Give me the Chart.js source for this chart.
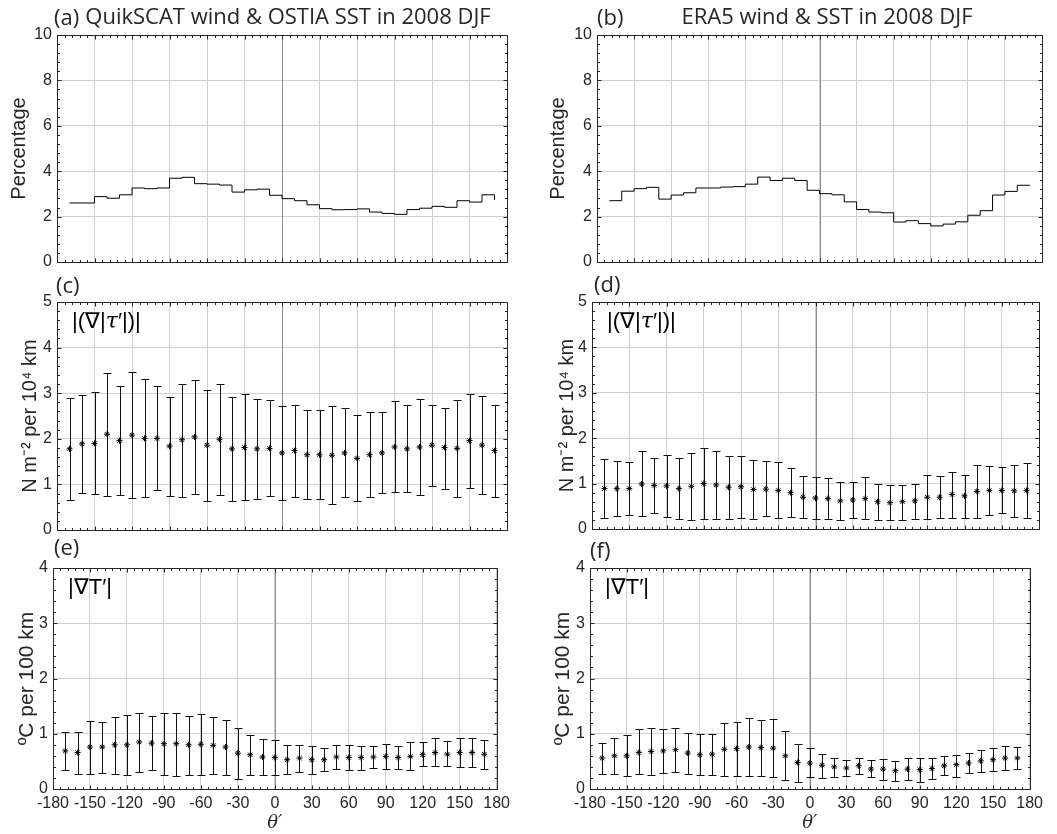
<!DOCTYPE html>
<html>
<head>
<meta charset="utf-8">
<script src="https://cdn.jsdelivr.net/npm/chart.js@4.4.0/dist/chart.umd.min.js"></script>
<style>
body { margin: 0; background: #fff; }
#wrap { position: relative; width: 1057px; height: 834px; overflow: hidden; background: #fff; }
canvas { position: absolute; }
</style>
</head>
<body>
<div id="wrap">
<canvas id="pa"></canvas><canvas id="pb"></canvas>
<canvas id="pc"></canvas><canvas id="pd"></canvas>
<canvas id="pe"></canvas><canvas id="pf"></canvas>
</div>
<script>
// bin centres (theta', degrees)
var theta = [-170, -160, -150, -140, -130, -120, -110, -100, -90, -80, -70, -60, -50, -40, -30, -20, -10,
    0, 10, 20, 30, 40, 50, 60, 70, 80, 90, 100, 110, 120, 130, 140, 150, 160, 170];
var xTicks = [-180, -150, -120, -90, -60, -30, 0, 30, 60, 90, 120, 150, 180];

// (a) / (b) percentage of samples per bin
var pctQuik = [2.60, 2.60, 2.88, 2.81, 2.96, 3.26, 3.23, 3.26, 3.69, 3.73, 3.45, 3.43, 3.39, 3.08, 3.18, 3.21, 2.94,
    2.79, 2.70, 2.52, 2.35, 2.30, 2.31, 2.34, 2.20, 2.14, 2.10, 2.31, 2.37, 2.45, 2.41, 2.70, 2.64, 2.96, 2.74];
var pctEra5 = [2.70, 3.12, 3.23, 3.29, 2.77, 2.95, 3.05, 3.26, 3.26, 3.30, 3.32, 3.43, 3.74, 3.59, 3.69, 3.59, 3.16,
    3.01, 2.96, 2.65, 2.31, 2.20, 2.17, 1.76, 1.82, 1.69, 1.59, 1.67, 1.77, 2.06, 2.26, 2.95, 3.11, 3.38, 3.35];

// (c) / (d) |grad|tau'|| : mean, upper and lower end of bar
var tauQuik = [1.78, 1.89, 1.90, 2.10, 1.96, 2.08, 2.01, 2.01, 1.84, 1.98, 2.04, 1.86, 1.99, 1.78, 1.81, 1.78, 1.79,
    1.69, 1.74, 1.65, 1.65, 1.64, 1.69, 1.57, 1.65, 1.69, 1.82, 1.78, 1.82, 1.86, 1.81, 1.79, 1.96, 1.86, 1.74];
var tauQuikHi = [2.90, 2.97, 3.02, 3.45, 3.16, 3.47, 3.32, 3.16, 2.92, 3.21, 3.28, 3.07, 3.21, 2.92, 2.98, 2.87, 2.85,
    2.73, 2.75, 2.63, 2.63, 2.72, 2.68, 2.53, 2.58, 2.58, 2.83, 2.74, 2.87, 2.75, 2.68, 2.84, 2.98, 2.94, 2.75];
var tauQuikLo = [0.66, 0.81, 0.79, 0.75, 0.76, 0.70, 0.72, 0.87, 0.75, 0.73, 0.80, 0.64, 0.76, 0.63, 0.66, 0.67, 0.74,
    0.66, 0.73, 0.69, 0.68, 0.57, 0.72, 0.63, 0.73, 0.82, 0.84, 0.84, 0.76, 0.97, 0.91, 0.73, 0.93, 0.78, 0.73];

var tauEra5 = [0.89, 0.89, 0.89, 0.99, 0.96, 0.95, 0.89, 0.94, 1.00, 0.97, 0.92, 0.93, 0.87, 0.88, 0.85, 0.80, 0.70,
    0.68, 0.67, 0.62, 0.64, 0.67, 0.60, 0.58, 0.60, 0.62, 0.70, 0.70, 0.76, 0.73, 0.83, 0.85, 0.85, 0.84, 0.85];
var tauEra5Hi = [1.55, 1.50, 1.48, 1.71, 1.57, 1.63, 1.57, 1.68, 1.78, 1.71, 1.60, 1.60, 1.52, 1.49, 1.48, 1.34, 1.16,
    1.14, 1.12, 1.04, 1.04, 1.14, 0.99, 0.97, 0.97, 0.99, 1.18, 1.16, 1.26, 1.20, 1.41, 1.39, 1.37, 1.41, 1.46];
var tauEra5Lo = [0.25, 0.29, 0.31, 0.28, 0.36, 0.27, 0.22, 0.20, 0.23, 0.21, 0.23, 0.25, 0.22, 0.28, 0.24, 0.27, 0.25,
    0.23, 0.23, 0.20, 0.24, 0.22, 0.20, 0.19, 0.20, 0.21, 0.21, 0.24, 0.24, 0.24, 0.24, 0.31, 0.36, 0.27, 0.25];

// (e) / (f) |grad T'|
var sstQuik = [0.69, 0.66, 0.76, 0.76, 0.80, 0.80, 0.85, 0.83, 0.82, 0.82, 0.80, 0.81, 0.79, 0.76, 0.65, 0.62, 0.58,
    0.57, 0.53, 0.56, 0.53, 0.53, 0.58, 0.57, 0.57, 0.58, 0.59, 0.57, 0.59, 0.62, 0.66, 0.63, 0.66, 0.66, 0.63];
var sstQuikHi = [1.03, 1.04, 1.23, 1.21, 1.31, 1.34, 1.38, 1.33, 1.37, 1.37, 1.33, 1.36, 1.31, 1.24, 1.11, 0.97, 0.90,
    0.88, 0.79, 0.80, 0.77, 0.74, 0.79, 0.79, 0.77, 0.77, 0.81, 0.77, 0.85, 0.85, 0.92, 0.86, 0.92, 0.92, 0.89];
var sstQuikLo = [0.34, 0.27, 0.28, 0.29, 0.27, 0.25, 0.31, 0.34, 0.26, 0.24, 0.25, 0.25, 0.27, 0.26, 0.18, 0.25, 0.26,
    0.26, 0.27, 0.31, 0.28, 0.33, 0.37, 0.34, 0.34, 0.38, 0.36, 0.36, 0.34, 0.41, 0.41, 0.42, 0.40, 0.40, 0.36];

var sstEra5 = [0.56, 0.60, 0.60, 0.66, 0.68, 0.69, 0.71, 0.65, 0.62, 0.63, 0.72, 0.73, 0.76, 0.75, 0.74, 0.60, 0.48,
    0.47, 0.43, 0.40, 0.38, 0.42, 0.36, 0.36, 0.33, 0.36, 0.35, 0.37, 0.42, 0.44, 0.47, 0.51, 0.53, 0.56, 0.56];
var sstEra5Hi = [0.83, 0.93, 0.97, 1.08, 1.10, 1.09, 1.11, 1.01, 0.99, 1.00, 1.20, 1.22, 1.29, 1.25, 1.27, 1.05, 0.82,
    0.74, 0.64, 0.57, 0.53, 0.57, 0.52, 0.55, 0.51, 0.56, 0.56, 0.56, 0.59, 0.61, 0.65, 0.70, 0.74, 0.77, 0.76];
var sstEra5Lo = [0.27, 0.27, 0.23, 0.27, 0.25, 0.29, 0.31, 0.28, 0.25, 0.25, 0.24, 0.24, 0.23, 0.23, 0.21, 0.16, 0.13,
    0.21, 0.20, 0.22, 0.23, 0.27, 0.22, 0.16, 0.15, 0.16, 0.13, 0.19, 0.25, 0.22, 0.29, 0.31, 0.33, 0.34, 0.36];

var AXIS = '#262626';
var GRID = '#d0d0d0';
var SANS = '"Liberation Sans", Arial, sans-serif';
var TITLEF = '"Open Sans", "Noto Sans", sans-serif';

function pts(ys) {
    return theta.map(function (t, i) { return {x: t, y: ys[i]}; });
}

function deco(p) {
    return {
        id: 'deco',
        beforeDatasetsDraw: function (chart) {
            var ctx = chart.ctx, a = chart.chartArea, xs = chart.scales.x, ys = chart.scales.y;
            ctx.save();
            // darker line at theta' = 0
            var x0 = Math.round(xs.getPixelForValue(0)) + 0.5;
            ctx.strokeStyle = '#8c8c8c';
            ctx.lineWidth = 1;
            ctx.beginPath();
            ctx.moveTo(x0, a.top);
            ctx.lineTo(x0, a.bottom);
            ctx.stroke();
            // error bars
            var ds = chart.data.datasets[0];
            if (ds.errLo) {
                ctx.strokeStyle = '#111';
                for (var i = 0; i < theta.length; i++) {
                    var px = Math.round(xs.getPixelForValue(theta[i])) + 0.5;
                    var yl = Math.round(ys.getPixelForValue(ds.errLo[i])) + 0.5;
                    var yh = Math.round(ys.getPixelForValue(ds.errHi[i])) + 0.5;
                    ctx.beginPath();
                    ctx.moveTo(px, yl); ctx.lineTo(px, yh);
                    ctx.moveTo(px - 4, yl); ctx.lineTo(px + 4, yl);
                    ctx.moveTo(px - 4, yh); ctx.lineTo(px + 4, yh);
                    ctx.stroke();
                }
            }
            ctx.restore();
        },
        afterDraw: function (chart) {
            var ctx = chart.ctx, a = chart.chartArea, xs = chart.scales.x, ys = chart.scales.y;
            ctx.save();
            ctx.strokeStyle = AXIS;
            ctx.lineWidth = 1;
            var L = Math.round(a.left) + 0.5, R = Math.round(a.right) + 0.5;
            var T = Math.round(a.top) + 0.5, B = Math.round(a.bottom) + 0.5;
            ctx.beginPath();
            // x ticks (major 30, minor 6) on top and bottom, pointing in
            for (var v = -180; v <= 180; v += 6) {
                var px = Math.round(xs.getPixelForValue(v)) + 0.5;
                var len = (v % 30 === 0) ? 4 : 2.5;
                ctx.moveTo(px, B); ctx.lineTo(px, B - len);
                ctx.moveTo(px, T); ctx.lineTo(px, T + len);
            }
            var n = Math.round(p.yMax / p.yMinor);
            for (var k = 0; k <= n; k++) {
                var yv = k * p.yMinor;
                var q = yv / p.yStep;
                var ylen = Math.abs(q - Math.round(q)) < 1e-6 ? 4 : 2.5;
                var py = Math.round(ys.getPixelForValue(yv)) + 0.5;
                ctx.moveTo(L, py); ctx.lineTo(L + ylen, py);
                ctx.moveTo(R, py); ctx.lineTo(R - ylen, py);
            }
            ctx.rect(L, T, R - L, B - T);
            ctx.stroke();

            // panel letter and title
            ctx.fillStyle = AXIS;
            ctx.textBaseline = 'middle';
            ctx.textAlign = 'left';
            ctx.font = '22px ' + TITLEF;
            ctx.fillText(p.letter, p.letterX - p.cx, p.letterY - p.cy);
            if (p.title) {
                ctx.textAlign = 'center';
                ctx.fillText(p.title, p.titleX - p.cx, p.titleY - p.cy);
            }
            // inset quantity label
            if (p.inset) {
                ctx.fillStyle = '#000';
                ctx.textAlign = 'left';
                var ix = a.left + 15, iy = a.top + 20;
                p.inset.forEach(function (seg) {
                    ctx.font = seg[1];
                    ctx.fillText(seg[0], ix, iy);
                    ix += ctx.measureText(seg[0]).width;
                });
            }
            ctx.restore();
        }
    };
}

function makePanel(id, p) {
    var cv = document.getElementById(id);
    var left = p.box.l - 57, top = p.box.t - 35;
    var bottom = p.showX ? 834 : p.box.b + 8;
    var width = p.box.r - left + 12, height = bottom - top;
    cv.width = width; cv.height = height;
    cv.style.left = left + 'px'; cv.style.top = top + 'px';
    cv.style.width = width + 'px'; cv.style.height = height + 'px';
    p.cx = left; p.cy = top;

    new Chart(cv, {
        data: {datasets: p.datasets},
        options: {
            responsive: false,
            devicePixelRatio: 1,
            animation: false,
            events: [],
            layout: {padding: {top: 35, right: 12, bottom: p.showX ? 0 : 8, left: 0}},
            plugins: {legend: {display: false}, tooltip: {enabled: false}},
            scales: {
                x: {
                    type: 'linear', min: -180, max: 180,
                    afterBuildTicks: function (s) { s.ticks = xTicks.map(function (v) { return {value: v}; }); },
                    afterFit: function (s) { s.height = bottom - p.box.b; },
                    ticks: {display: p.showX, autoSkip: false, maxRotation: 0, padding: 5,
                        color: AXIS, font: {family: SANS, size: 16}},
                    grid: {color: GRID, drawTicks: false},
                    border: {display: false},
                    title: {display: p.showX, text: 'θ′', color: AXIS, padding: 0,
                        font: {family: '"DejaVu Serif", serif', style: 'italic', size: 18}}
                },
                y: {
                    type: 'linear', min: 0, max: p.yMax,
                    afterFit: function (s) { s.width = 57; },
                    ticks: {stepSize: p.yStep, padding: 5, color: AXIS, font: {family: SANS, size: 16}},
                    grid: {color: GRID, drawTicks: false},
                    border: {display: false},
                    title: {display: true, text: p.yTitle, color: AXIS, padding: {top: p.yPad, bottom: 0},
                        font: {family: SANS, size: p.ySize}}
                }
            }
        },
        plugins: [deco(p)]
    });
}

function stairs(ys) {
    return [{type: 'line', data: pts(ys), stepped: true, borderColor: '#000', borderWidth: 1,
        pointRadius: 0, fill: false}];
}

function stars(ys, lo, hi) {
    return [{type: 'scatter', data: pts(ys), errLo: lo, errHi: hi, pointStyle: 'star', pointRadius: 3,
        borderColor: '#000', backgroundColor: '#000', borderWidth: 1}];
}

var tauInset = [['|(∇|', '22px ' + SANS], ['τ', 'italic 22px "DejaVu Serif", serif'], ['′|)|', '22px ' + SANS]];
var sstInset = [['|∇T′|', '22px ' + SANS]];
var tauTitle = 'N m⁻² per 10⁴ km';
var sstTitle = 'ºC per 100 km';

makePanel('pa', {box: {l: 57, t: 35, r: 507, b: 270}, showX: false, yMax: 10, yStep: 2, yMinor: 0.4,
    yTitle: 'Percentage', ySize: 20, yPad: 7, letter: '(a)', letterX: 54, letterY: 19,
    title: 'QuikSCAT wind & OSTIA SST in 2008 DJF', titleX: 288, titleY: 18, datasets: stairs(pctQuik)});
makePanel('pb', {box: {l: 597, t: 35, r: 1042, b: 270}, showX: false, yMax: 10, yStep: 2, yMinor: 0.4,
    yTitle: 'Percentage', ySize: 20, yPad: 6, letter: '(b)', letterX: 597, letterY: 19,
    title: 'ERA5 wind & SST in 2008 DJF', titleX: 827, titleY: 18, datasets: stairs(pctEra5)});
makePanel('pc', {box: {l: 57, t: 302, r: 507, b: 538}, showX: false, yMax: 5, yStep: 1, yMinor: 0.2,
    yTitle: tauTitle, ySize: 20, yPad: 18, letter: '(c)', letterX: 56, letterY: 287, inset: tauInset,
    datasets: stars(tauQuik, tauQuikLo, tauQuikHi)});
makePanel('pd', {box: {l: 592, t: 302, r: 1039, b: 537}, showX: false, yMax: 5, yStep: 1, yMinor: 0.2,
    yTitle: tauTitle, ySize: 20, yPad: 20, letter: '(d)', letterX: 594, letterY: 286, inset: tauInset,
    datasets: stars(tauEra5, tauEra5Lo, tauEra5Hi)});
makePanel('pe', {box: {l: 53, t: 568, r: 503, b: 789}, showX: true, yMax: 4, yStep: 1, yMinor: 0.2,
    yTitle: sstTitle, ySize: 21, yPad: 19, letter: '(e)', letterX: 54, letterY: 549, inset: sstInset,
    datasets: stars(sstQuik, sstQuikLo, sstQuikHi)});
makePanel('pf', {box: {l: 590, t: 568, r: 1036, b: 789}, showX: true, yMax: 4, yStep: 1, yMinor: 0.2,
    yTitle: sstTitle, ySize: 21, yPad: 18, letter: '(f)', letterX: 590, letterY: 552, inset: sstInset,
    datasets: stars(sstEra5, sstEra5Lo, sstEra5Hi)});
</script>
</body>
</html>
